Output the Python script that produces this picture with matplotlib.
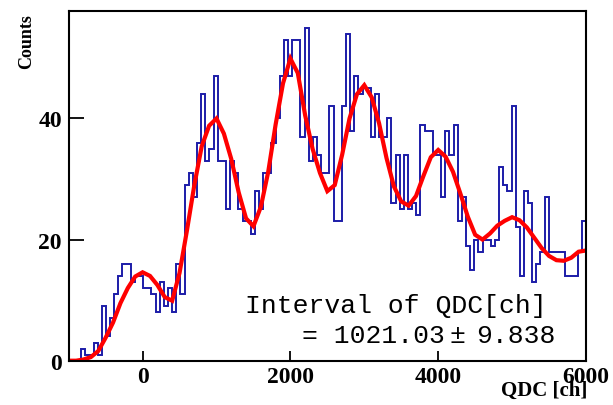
import numpy as np
import matplotlib
matplotlib.use('Agg')
import matplotlib.pyplot as plt

# histogram: 125 bins of 56 ch from -1000 to 6000
bin_lo = -1000
bin_hi = 6000
counts = [
    0, 0, 0, 2, 1, 1, 3, 1, 9, 4,
    7, 11, 14, 16, 16, 13, 14, 14, 12, 12,
    11, 8, 13, 9, 12, 8, 16, 11, 29, 31,
    27, 36, 44, 33, 35, 47, 33, 33, 25, 33,
    31, 25, 23, 23, 21, 28, 25, 31, 31, 36,
    40, 47, 53, 47, 53, 53, 37, 55, 33, 37,
    34, 31, 31, 42, 23, 23, 42, 54, 38, 47,
    44, 45, 45, 37, 44, 37, 37, 40, 26, 34,
    25, 34, 25, 26, 24, 39, 38, 38, 34, 34,
    27, 38, 34, 39, 23, 27, 19, 15, 20, 18,
    20, 20, 19, 20, 32, 29, 28, 42, 22, 14,
    28, 26, 13, 16, 18, 27, 18, 18, 18, 18,
    14, 14, 14, 18, 23,
]

# fit curve every 100 ch
fit_x = list(range(-1000, 6001, 100))
fit_y = [
    0, 0, 0.2, 0.6, 1.6, 3.8, 6.3, 9.5, 12.0, 13.9,
    14.6, 14.0, 12.5, 10.5, 9.9, 14.5, 21.5, 29.0, 35.4, 38.8,
    40.0, 37.5, 33.3, 27.8, 23.5, 22.2, 25.4, 31.2, 39.0, 45.8,
    49.9, 47.5, 40.5, 35.0, 31.0, 28.0, 29.0, 34.0, 40.0, 44.0,
    45.5, 43.5, 39.2, 33.5, 28.8, 26.3, 25.6, 27.2, 30.5, 33.6,
    34.8, 33.7, 31.2, 27.6, 23.8, 20.8, 20.0, 21.0, 22.3, 23.1,
    23.7, 23.2, 22.0, 20.3, 18.6, 17.3, 16.6, 16.5, 17.0, 18.0,
    18.2,
]

xticks = [0, 2000, 4000, 6000]
yticks = [0, 20, 40]

edges = np.linspace(bin_lo, bin_hi, len(counts) + 1)

W, H = 613, 406
fig = plt.figure(figsize=(W / 100, H / 100), dpi=100)
ax = fig.add_axes([68.7 / W, 1 - 361.7 / H, (586 - 68.7) / W, (361.7 - 12) / H])

ax.stairs(counts, edges, color='#1c1ca8', lw=1.4, baseline=None)
ax.plot(fit_x, fit_y, color='#ff0000', lw=3, solid_joinstyle='miter')

ax.set_xlim(bin_lo, bin_hi)
ax.set_ylim(0, 57.75)
ax.set_xticks(xticks)
ax.set_yticks(yticks)
ax.minorticks_off()

for s in ax.spines.values():
    s.set_linewidth(1.5)

lab_font = dict(family='Liberation Serif', weight='bold', size=17)
ax.tick_params(axis='y', direction='in', length=11, width=1.3, pad=5)
ax.tick_params(axis='x', direction='in', length=7.5, width=1.3, pad=4)
ax.set_xticklabels([str(t) for t in xticks], **lab_font)
ax.set_yticklabels([str(t) for t in yticks], **lab_font)

fig.text(27 / W, 1 - 14 / H, 'Counts', rotation=90, ha='center', va='top',
         family='Liberation Serif', weight='bold', size=13)
fig.text(587 / W, 1 - 396 / H, 'QDC [ch]', ha='right', va='baseline',
         family='Liberation Serif', weight='bold', size=15)

mono = dict(family='Liberation Mono', size=19, color='black')
fig.text(245 / W, 1 - 313 / H, 'Interval of QDC[ch]', ha='left',
         va='baseline', **mono)
fig.text(445 / W, 1 - 343 / H, '= 1021.03', ha='right', va='baseline', **mono)
fig.text(457 / W, 1 - 343 / H, '±', ha='center', va='baseline', **mono)
fig.text(555 / W, 1 - 343 / H, '9.838', ha='right', va='baseline', **mono)

fig.savefig('out.png', dpi=100)
